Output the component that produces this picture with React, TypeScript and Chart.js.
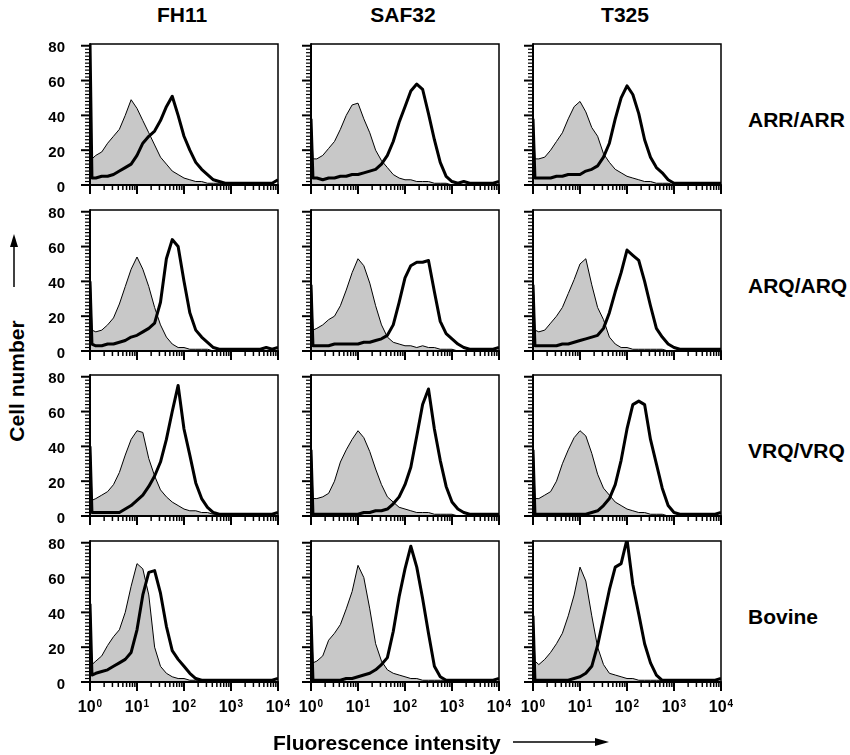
import React, { useEffect, useRef } from "react";
import { Chart, registerables } from "chart.js";

Chart.register(...registerables);

const FONT = '"Liberation Sans", Arial, Helvetica, sans-serif';

const antibodies = ["FH11", "SAF32", "T325"];
const genotypes = ["ARR/ARR", "ARQ/ARQ", "VRQ/VRQ", "Bovine"];
const yTickValues = [0, 20, 40, 60, 80];
const yMinorStep = 2;
const xDecades = [1, 10, 100, 1000, 10000];
const xExponents = ["0", "1", "2", "3", "4"];
const xMinorMultipliers = [2, 3, 4, 5, 6, 7, 8, 9];

// fluorescence channel grid (log spaced)
const channels = [1, 1.1, 1.33, 1.78, 2.37, 3.16, 4.22, 5.62, 7.5, 10, 13.3, 17.8, 23.7, 31.6, 42.2, 56.2, 75, 100, 133, 178, 237, 316, 422, 562, 750, 1000, 1334, 1778, 2371, 3162, 4217, 5623, 7499, 10000];

// grey filled histograms (control)
const isoArrFh11 = [40, 15, 17, 19, 24, 28, 32, 40, 49, 44, 37, 30, 23, 16, 12, 8, 6, 4, 3, 2, 2, 1, 1, 1, 0, 0, 0, 0, 0, 0, 0, 0, 0, 0];
const isoArrSaf32 = [40, 15, 15, 17, 21, 25, 32, 40, 46, 47, 38, 30, 20, 14, 10, 6, 4, 3, 3, 2, 2, 2, 1, 1, 1, 0, 0, 0, 0, 0, 0, 0, 0, 0];
const isoArrT325 = [40, 15, 15, 16, 20, 25, 30, 38, 45, 48, 42, 33, 28, 18, 13, 9, 7, 5, 4, 3, 2, 2, 1, 1, 1, 0, 0, 0, 0, 0, 0, 0, 0, 0];
const isoArqFh11 = [48, 12, 11, 12, 15, 19, 27, 37, 47, 54, 47, 37, 25, 15, 8, 4, 2, 2, 1, 1, 1, 1, 0, 0, 0, 0, 0, 0, 0, 0, 0, 0, 0, 0];
const isoArqSaf32 = [45, 12, 13, 15, 18, 20, 26, 35, 45, 53, 49, 39, 26, 15, 8, 5, 4, 3, 3, 2, 3, 2, 2, 1, 1, 1, 0, 0, 0, 0, 0, 0, 0, 0];
const isoArqT325 = [45, 12, 11, 12, 16, 20, 25, 33, 41, 50, 53, 38, 25, 18, 8, 4, 2, 2, 1, 1, 1, 1, 1, 1, 0, 0, 0, 0, 0, 0, 0, 0, 0, 0];
const isoVrqFh11 = [47, 9, 10, 12, 14, 18, 25, 35, 44, 49, 48, 33, 23, 15, 11, 8, 6, 4, 3, 3, 2, 2, 1, 1, 0, 0, 0, 0, 0, 0, 0, 0, 0, 0];
const isoVrqSaf32 = [45, 10, 10, 11, 13, 20, 31, 38, 44, 49, 45, 37, 27, 18, 11, 8, 5, 4, 3, 2, 2, 2, 1, 1, 1, 1, 0, 0, 0, 0, 0, 0, 0, 0];
const isoVrqT325 = [45, 10, 10, 12, 14, 20, 30, 38, 45, 49, 46, 36, 24, 16, 12, 8, 6, 4, 3, 2, 2, 1, 1, 1, 0, 0, 0, 0, 0, 0, 0, 0, 0, 0];
const isoBovFh11 = [52, 10, 12, 15, 21, 26, 30, 40, 55, 68, 65, 50, 20, 9, 5, 3, 2, 2, 1, 1, 1, 0, 0, 0, 0, 0, 0, 0, 0, 0, 0, 0, 0, 0];
const isoBovSaf32 = [40, 11, 12, 15, 24, 28, 33, 42, 52, 67, 60, 42, 22, 12, 7, 5, 4, 3, 2, 2, 1, 1, 1, 1, 1, 1, 0, 0, 0, 0, 0, 0, 0, 0];
const isoBovT325 = [40, 12, 10, 13, 17, 22, 28, 38, 50, 66, 58, 38, 20, 10, 5, 4, 3, 2, 2, 1, 1, 1, 1, 1, 0, 0, 0, 0, 0, 0, 0, 0, 0, 0];

// thick black histograms (antibody staining)
const stainArrFh11 = [82, 4, 4, 5, 5, 6, 8, 10, 12, 17, 24, 28, 31, 37, 45, 51, 40, 28, 20, 13, 9, 6, 3, 2, 1, 1, 1, 1, 1, 1, 1, 1, 1, 3];
const stainArrSaf32 = [38, 4, 4, 3, 4, 4, 5, 5, 6, 6, 7, 8, 9, 12, 17, 25, 36, 45, 54, 58, 55, 41, 26, 13, 5, 2, 1, 2, 1, 1, 1, 1, 1, 2];
const stainArrT325 = [38, 4, 4, 4, 4, 5, 5, 6, 6, 6, 8, 9, 11, 16, 24, 38, 50, 57, 52, 41, 26, 16, 10, 7, 3, 1, 1, 1, 1, 1, 1, 1, 1, 1];
const stainArqFh11 = [40, 4, 3, 3, 4, 4, 5, 6, 8, 9, 11, 13, 16, 28, 53, 64, 60, 40, 22, 12, 8, 5, 2, 1, 1, 1, 1, 1, 1, 1, 1, 2, 1, 2];
const stainArqSaf32 = [38, 3, 3, 3, 3, 4, 4, 4, 4, 4, 5, 5, 6, 7, 9, 15, 28, 42, 49, 51, 51, 52, 34, 17, 10, 7, 4, 2, 1, 1, 1, 1, 1, 2];
const stainArqT325 = [38, 3, 3, 3, 3, 3, 4, 4, 5, 6, 7, 8, 9, 13, 22, 34, 45, 58, 55, 52, 40, 26, 13, 8, 4, 2, 1, 1, 1, 1, 1, 1, 1, 1];
const stainVrqFh11 = [40, 2, 2, 2, 2, 2, 2, 4, 6, 9, 12, 17, 23, 31, 44, 60, 75, 50, 35, 19, 10, 5, 2, 1, 1, 1, 1, 1, 1, 1, 1, 1, 1, 2];
const stainVrqSaf32 = [38, 1, 1, 1, 1, 1, 1, 1, 1, 1, 2, 2, 3, 3, 4, 7, 11, 18, 28, 46, 64, 73, 50, 32, 17, 8, 4, 2, 1, 1, 1, 1, 1, 1];
const stainVrqT325 = [38, 1, 1, 1, 1, 1, 1, 1, 1, 1, 1, 2, 3, 6, 10, 18, 32, 50, 64, 66, 64, 44, 30, 16, 6, 2, 1, 1, 1, 1, 1, 1, 1, 2];
const stainBovFh11 = [45, 4, 5, 6, 7, 9, 11, 13, 17, 30, 50, 63, 64, 51, 32, 18, 13, 9, 5, 2, 1, 1, 1, 1, 1, 1, 1, 1, 1, 1, 1, 1, 1, 2];
const stainBovSaf32 = [38, 1, 1, 1, 1, 1, 1, 2, 2, 3, 4, 5, 7, 10, 14, 29, 49, 65, 78, 66, 48, 28, 9, 3, 1, 1, 1, 1, 1, 1, 1, 1, 1, 2];
const stainBovT325 = [38, 1, 1, 1, 1, 1, 1, 1, 2, 3, 5, 9, 21, 37, 53, 66, 68, 82, 56, 39, 22, 11, 4, 1, 1, 1, 1, 1, 1, 1, 1, 1, 1, 2];

const isotypeTable = [
  [isoArrFh11, isoArrSaf32, isoArrT325],
  [isoArqFh11, isoArqSaf32, isoArqT325],
  [isoVrqFh11, isoVrqSaf32, isoVrqT325],
  [isoBovFh11, isoBovSaf32, isoBovT325],
];
const stainTable = [
  [stainArrFh11, stainArrSaf32, stainArrT325],
  [stainArqFh11, stainArqSaf32, stainArqT325],
  [stainVrqFh11, stainVrqSaf32, stainVrqT325],
  [stainBovFh11, stainBovSaf32, stainBovT325],
];

const PLOT_LEFT = [90, 311, 533];
const PLOT_TOP = [44, 210, 375, 541];
const PLOT_W = 188;
const PLOT_H = 141;
const GREY = "#c8c8c8";

function Panel({ r, c }: { r: number; c: number }) {
  const ref = useRef<HTMLCanvasElement | null>(null);
  const L = 50;
  const R = 16;
  const T = 12;
  const last = r === genotypes.length - 1;
  const B = last ? 40 : 14;
  const w = L + PLOT_W + R;
  const h = T + PLOT_H + B;

  useEffect(() => {
    const frame = {
      id: "frame",
      afterDatasetsDraw(chart: any) {
        const { ctx, chartArea: a, scales } = chart;
        const xs = scales.x;
        const ys = scales.y;
        ctx.save();
        ctx.strokeStyle = "#000";
        ctx.lineCap = "butt";
        ctx.lineWidth = 1.5;
        ctx.beginPath();
        ctx.moveTo(a.left, a.top);
        ctx.lineTo(a.right, a.top);
        ctx.lineTo(a.right, a.bottom);
        ctx.stroke();
        ctx.lineWidth = 2;
        ctx.beginPath();
        ctx.moveTo(a.left, a.top - 0.75);
        ctx.lineTo(a.left, a.bottom);
        ctx.lineTo(a.right + 0.75, a.bottom);
        ctx.stroke();
        const yMax = yTickValues[yTickValues.length - 1];
        for (let v = yTickValues[0]; v <= yMax; v += yMinorStep) {
          const p = ys.getPixelForValue(v);
          const major = yTickValues.includes(v);
          ctx.lineWidth = major ? 2 : 1.2;
          const len = major ? 9 : 5;
          ctx.beginPath();
          ctx.moveTo(a.left - len, p);
          ctx.lineTo(a.left, p);
          ctx.stroke();
        }
        if (c === 0) {
          ctx.fillStyle = "#000";
          ctx.font = `bold 15px ${FONT}`;
          ctx.textAlign = "right";
          ctx.textBaseline = "middle";
          yTickValues.forEach((v) => {
            ctx.fillText(String(v), a.left - 25, ys.getPixelForValue(v) + 2.5);
          });
        }
        xDecades.forEach((d, i) => {
          const p = xs.getPixelForValue(d);
          ctx.lineWidth = 2;
          ctx.beginPath();
          ctx.moveTo(p, a.bottom);
          ctx.lineTo(p, a.bottom + 9);
          ctx.stroke();
          if (i < xDecades.length - 1) {
            xMinorMultipliers.forEach((m) => {
              const q = xs.getPixelForValue(d * m);
              ctx.lineWidth = 1.5;
              ctx.beginPath();
              ctx.moveTo(q, a.bottom);
              ctx.lineTo(q, a.bottom + 5);
              ctx.stroke();
            });
          }
        });
        if (last) {
          ctx.fillStyle = "#000";
          ctx.textAlign = "left";
          ctx.textBaseline = "alphabetic";
          xDecades.forEach((d, i) => {
            const p = xs.getPixelForValue(d);
            ctx.font = `bold 16px ${FONT}`;
            const w1 = ctx.measureText("10").width;
            ctx.font = `bold 10px ${FONT}`;
            const w2 = ctx.measureText(xExponents[i]).width;
            const x0 = p - (w1 + w2 + 1) / 2;
            ctx.font = `bold 16px ${FONT}`;
            ctx.fillText("10", x0, a.bottom + 30);
            ctx.font = `bold 10px ${FONT}`;
            ctx.fillText(xExponents[i], x0 + w1 + 1, a.bottom + 24.5);
          });
        }
        ctx.restore();
      },
    };

    const iso = isotypeTable[r][c];
    const stain = stainTable[r][c];
    const chart = new Chart(ref.current as HTMLCanvasElement, {
      type: "line",
      data: {
        datasets: [
          {
            data: channels.map((x, i) => ({ x, y: iso[i] })),
            borderColor: "#000",
            borderWidth: 1,
            backgroundColor: GREY,
            fill: "origin",
            pointRadius: 0,
            tension: 0,
            order: 2,
          },
          {
            data: channels.map((x, i) => ({ x, y: stain[i] })),
            borderColor: "#000",
            borderWidth: 3,
            borderJoinStyle: "round",
            fill: false,
            pointRadius: 0,
            tension: 0,
            order: 1,
          },
        ],
      } as any,
      options: {
        animation: false,
        responsive: false,
        devicePixelRatio: 1,
        events: [],
        layout: { padding: { left: 0, top: T, right: R, bottom: 0 } },
        plugins: { legend: { display: false }, tooltip: { enabled: false } },
        scales: {
          x: {
            type: "logarithmic",
            min: 1,
            max: 10000,
            grid: { display: false, drawTicks: false },
            border: { display: false },
            ticks: { display: false },
            afterFit: (s: any) => {
              s.height = B;
            },
          },
          y: {
            type: "linear",
            min: 0,
            max: 81,
            grid: { display: false, drawTicks: false },
            border: { display: false },
            ticks: { display: false },
            afterFit: (s: any) => {
              s.width = L;
            },
          },
        },
      } as any,
      plugins: [frame as any],
    });
    return () => chart.destroy();
  }, [r, c]);

  return (
    <canvas
      ref={ref}
      width={w}
      height={h}
      style={{ position: "absolute", left: PLOT_LEFT[c] - L, top: PLOT_TOP[r] - T, width: w, height: h }}
    />
  );
}

const textBase: React.CSSProperties = {
  position: "absolute",
  fontFamily: FONT,
  fontWeight: "bold",
  fontSize: 21,
  lineHeight: 1,
  whiteSpace: "nowrap",
  color: "#000",
};

export default function App() {
  const rowCenters = PLOT_TOP.map((t) => t + PLOT_H / 2 + 4);
  return (
    <div style={{ position: "absolute", left: 0, top: 0, width: 850, height: 755, background: "#fff", overflow: "hidden" }}>
      {antibodies.map((name, c) => (
        <div
          key={name}
          style={{ ...textBase, left: PLOT_LEFT[c] + PLOT_W / 2 - 2, top: 14, transform: "translate(-50%, -50%)" }}
        >
          {name}
        </div>
      ))}
      {genotypes.map((g, r) => (
        <div key={g} style={{ ...textBase, left: 748, top: rowCenters[r], transform: "translate(0, -50%)" }}>
          {g}
        </div>
      ))}
      {genotypes.map((g, r) =>
        antibodies.map((a, c) => <Panel key={g + a} r={r} c={c} />)
      )}
      <div style={{ ...textBase, left: 16, top: 381, transform: "translate(-50%, -50%) rotate(-90deg)" }}>
        Cell number
      </div>
      <div style={{ ...textBase, left: 273, top: 742, transform: "translate(0, -50%)" }}>
        Fluorescence intensity
      </div>
      <svg width={850} height={755} style={{ position: "absolute", left: 0, top: 0, pointerEvents: "none" }}>
        <line x1={14} y1={287} x2={14} y2={244} stroke="#000" strokeWidth={1.5} />
        <polygon points="14,234 10,247 18,247" fill="#000" />
        <line x1={513} y1={742} x2={598} y2={742} stroke="#000" strokeWidth={1.5} />
        <polygon points="609,742 595,738 595,746" fill="#000" />
      </svg>
    </div>
  );
}
